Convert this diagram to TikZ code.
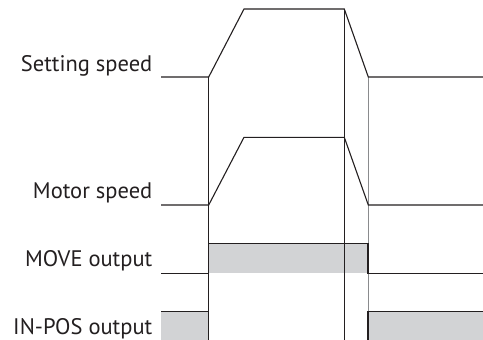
\documentclass[tikz,border=0pt]{standalone}
\usepackage{fontspec}
\setmainfont{PT Sans}
\definecolor{ink}{HTML}{231F20}
\definecolor{fillg}{HTML}{D2D3D5}
\definecolor{vgray}{HTML}{8A8B8D}
\begin{document}
\begin{tikzpicture}[x=1pt,y=-1pt,
  sig/.style={draw=ink,line width=1.1pt,line join=miter},
  lbl/.style={anchor=base east,font=\fontsize{22.5}{26}\selectfont,text=ink,inner sep=0pt}]
\useasboundingbox (0,0) rectangle (483,340);
% fills
\fill[fillg] (208.7,243.7) rectangle (368,273.3);
\fill[fillg] (161,311.7) rectangle (208.7,340);
\fill[fillg] (368,311.7) rectangle (483,340);
% verticals
\draw[ink,line width=1pt] (208.7,77) -- (208.7,340);
\draw[ink,line width=1pt] (344.3,9) -- (344.3,340);
\draw[vgray,line width=1pt] (368,77) -- (368,340);
% setting speed
\draw[sig] (161,77) -- (208.7,77) -- (244,9) -- (344.3,9) -- (368.3,77) -- (483,77);
% motor speed
\draw[sig] (161,205) -- (208.7,205) -- (244,137.3) -- (344.3,137.3) -- (368.3,205) -- (483,205);
% move output
\draw[sig] (161,273.3) -- (208.7,273.3) -- (208.7,243.7) -- (368,243.7) -- (368,273.3) -- (483,273.3);
% in-pos output
\draw[sig] (161,311.7) -- (208.7,311.7) -- (208.7,340);
\draw[sig] (368,340) -- (368,311.7) -- (483,311.7);
% labels
\node[lbl] (l1) at (152.5,71.5) {Setting speed};
\node[lbl] (l2) at (152.5,198.3) {Motor speed};
\node[lbl] (l3) at (152.5,266.7) {MOVE output};
\node[lbl] (l4) at (152.5,334.3) {IN-POS output};
\end{tikzpicture}
\end{document}
